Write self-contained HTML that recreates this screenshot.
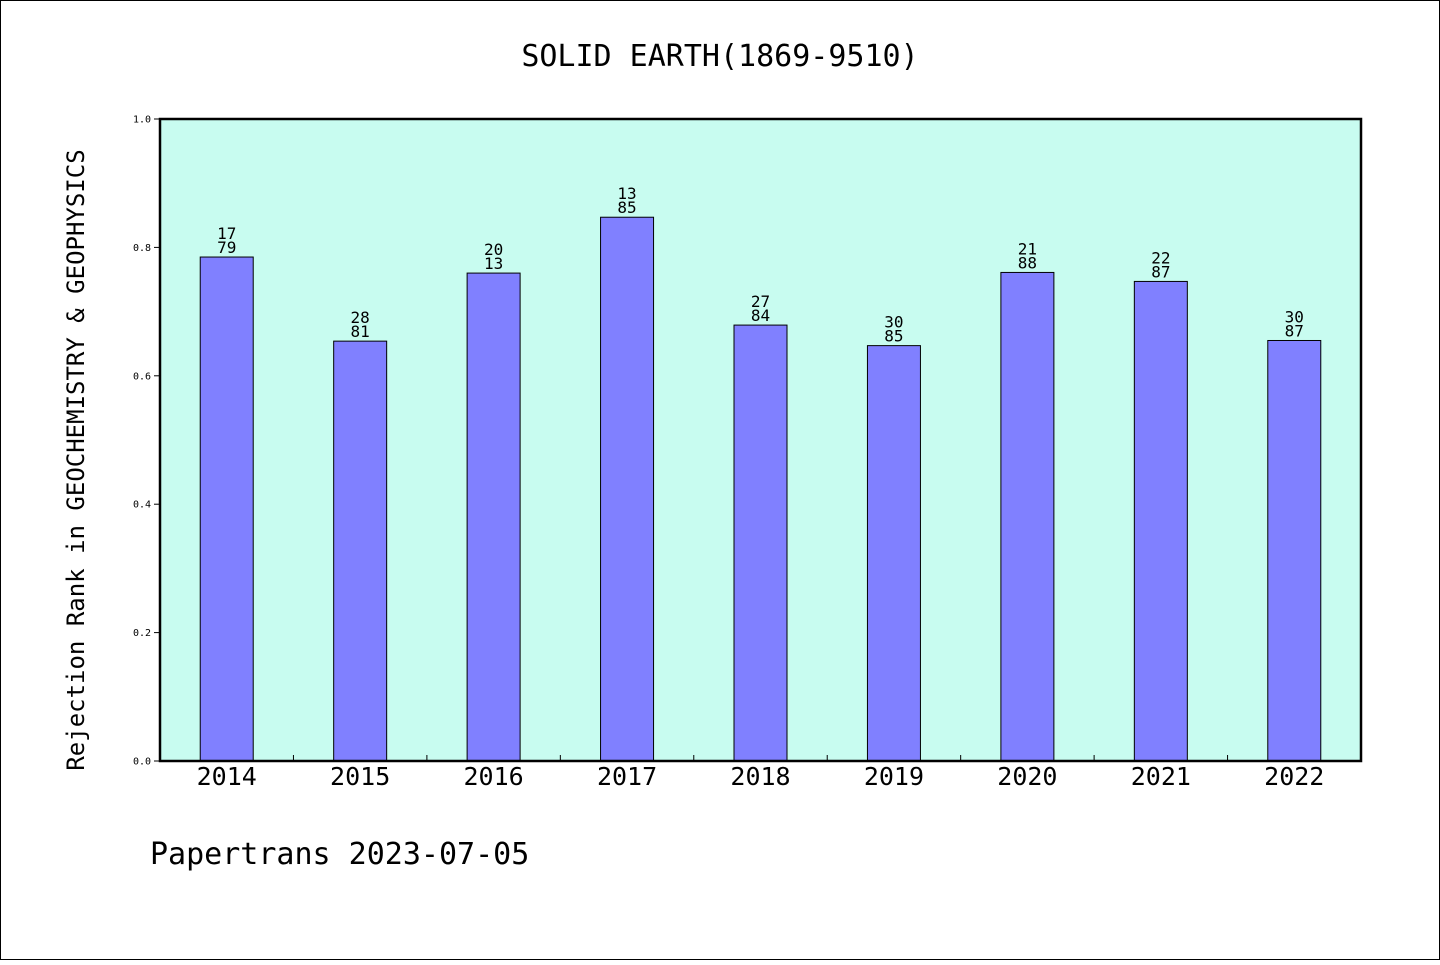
<!DOCTYPE html>
<html><head><meta charset="utf-8"><style>
body{margin:0;background:#fff}
svg text{font-family:"DejaVu Sans Mono","Liberation Mono",monospace}
</style></head><body>
<svg width="1440" height="960" xmlns="http://www.w3.org/2000/svg">
<rect x="0.5" y="0.5" width="1439" height="959" fill="#fff" stroke="#000"/>
<text x="720" y="66" font-size="30" text-anchor="middle">SOLID EARTH(1869-9510)</text>
<rect x="160" y="119" width="1201" height="642" fill="#c8fcf0"/>
<g id="bars"></g>
<rect x="160" y="119" width="1201" height="642" fill="none" stroke="#000" stroke-width="2.5"/>
<g id="axes"></g>
<text transform="translate(84,460) rotate(-90)" font-size="24" text-anchor="middle">Rejection Rank in GEOCHEMISTRY &amp; GEOPHYSICS</text>
<text x="150" y="864" font-size="30">Papertrans 2023-07-05</text>
</svg>
<script>
const categories=["2014","2015","2016","2017","2018","2019","2020","2021","2022"];
const values=[0.785,0.654,0.760,0.847,0.679,0.647,0.761,0.747,0.655];
const topLabels=["17","28","20","13","27","30","21","22","30"];
const bottomLabels=["79","81","13","85","84","85","88","87","87"];
const yTicks=[0,0.2,0.4,0.6,0.8,1.0];
const X0=160,W=1201,Y0=761,H=642;
const slot=W/categories.length;
const xc=i=>X0+slot*(i+0.5);
const ys=v=>Y0-v*H;
const NS="http://www.w3.org/2000/svg";
const bars=document.getElementById('bars'),axes=document.getElementById('axes');
function mk(tag,attrs,parent,txt){const e=document.createElementNS(NS,tag);for(const k in attrs)e.setAttribute(k,attrs[k]);if(txt!==undefined)e.textContent=txt;parent.appendChild(e);return e;}
categories.forEach((c,i)=>{
 const y=ys(values[i]);
 const r=mk('rect',{x:xc(i)-26.5,y:y,width:53,height:Y0-y,fill:'#8080ff',stroke:'#000','stroke-width':1},bars);
 
 
 const t1=mk('text',{x:xc(i),y:y-18,'font-size':16,'text-anchor':'middle'},bars,topLabels[i]);
 
 
 const t2=mk('text',{x:xc(i),y:y-4,'font-size':16,'text-anchor':'middle'},bars,bottomLabels[i]);
 
 
 const xl=mk('text',{x:xc(i),y:785,'font-size':25,'text-anchor':'middle'},axes,c);
 
 
 if(i>0){const tk=mk('line',{x1:X0+slot*i,x2:X0+slot*i,y1:Y0,y2:Y0-6,stroke:'#000'},axes);
 
 }
});
yTicks.forEach(v=>{
 const y=ys(v);
 const tk=mk('line',{x1:154,x2:160,y1:y,y2:y,stroke:'#000'},axes);
 
 
 const tl=mk('text',{x:151,y:y+3.5,'font-size':10,'text-anchor':'end'},axes,v.toFixed(1));
 
 
});
</script>
</body></html>
